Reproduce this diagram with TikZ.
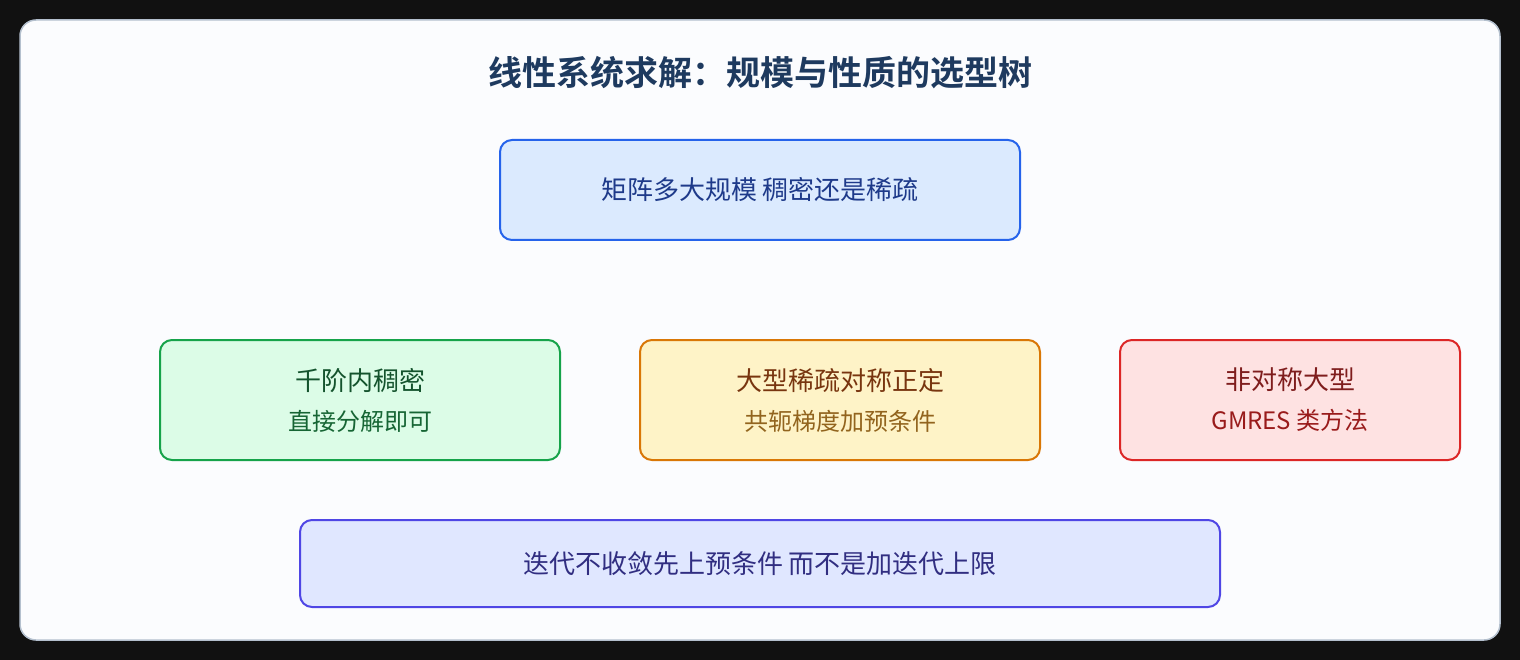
\documentclass[tikz,border=0pt]{standalone}
\usepackage{fontspec}
\setmainfont{Noto Sans CJK SC}[BoldFont={Noto Sans CJK SC Bold}]
\usepackage{tikz}
\usetikzlibrary{positioning}
\tikzset{
  box/.style = {align=center, rounded corners=12pt, line width=2pt, inner sep=0pt, outer sep=0pt,
  font=\fontsize{26}{40}\selectfont},
  box_q/.style = {box, draw=q_line, fill=q_fill, text=q_text, minimum width=520pt, minimum height=100pt},
  box_c/.style = {box, minimum height=120pt}
}
\definecolor{my_dark}{RGB}{17, 17, 17}
\definecolor{card_fill}{RGB}{251, 252, 254}
\definecolor{card_line}{RGB}{180, 192, 206}
\definecolor{title_text}{RGB}{30, 58, 95}
\definecolor{q_fill}{RGB}{219, 234, 254}
\definecolor{q_line}{RGB}{37, 99, 235}
\definecolor{q_text}{RGB}{30, 58, 138}
\definecolor{g_fill}{RGB}{220, 252, 231}
\definecolor{g_line}{RGB}{22, 163, 74}
\definecolor{g_text}{RGB}{20, 83, 45}
\definecolor{g_sub}{RGB}{22, 101, 52}
\definecolor{o_fill}{RGB}{254, 243, 199}
\definecolor{o_line}{RGB}{217, 119, 6}
\definecolor{o_text}{RGB}{120, 53, 15}
\definecolor{o_sub}{RGB}{146, 100, 30}
\definecolor{r_fill}{RGB}{254, 226, 226}
\definecolor{r_line}{RGB}{220, 38, 38}
\definecolor{r_text}{RGB}{127, 29, 29}
\definecolor{r_sub}{RGB}{153, 27, 27}
\definecolor{n_fill}{RGB}{224, 231, 255}
\definecolor{n_line}{RGB}{79, 70, 229}
\definecolor{n_text}{RGB}{49, 46, 129}
\newcommand{\subline}[2]{\\ \fontsize{24}{40}\selectfont\color{#1}#2}

\begin{document}
\begin{tikzpicture}[x=1pt, y=-1pt,
        	green/.style={box_c, draw=g_line, fill=g_fill, text=g_text, minimum width=400pt},
        	orange/.style={box_c, draw=o_line, fill=o_fill, text=o_text, minimum width=400pt},
        	red/.style={box_c, draw=r_line, fill=r_fill, text=r_text, minimum width=340pt},
        	note/.style={box, draw=n_line, fill=n_fill, text=n_text, minimum width=920pt, minimum height=87pt}]
		    \fill[my_dark] (0,0) rectangle (1520,660);
		    \useasboundingbox (0,0) rectangle (1520,660);
		    \draw[card_line, fill=card_fill, line width=1.5pt, rounded corners=16pt] (20,20) rectangle (1500,640);
		    \node [font=\fontsize{34}{40}\selectfont\bfseries, text=title_text] (title) at (760,73) {线性系统求解：规模与性质的选型树};
		    \node [box_q] (size) at (760,190) {矩阵多大规模 稠密还是稀疏};
		    \node [green] (dense) at (360,400) {千阶内稠密\subline{g_sub}{直接分解即可}};
		    \node [orange] (spd) at (840,400) {大型稀疏对称正定\subline{o_sub}{共轭梯度加预条件}};
		    \node [red] (nonsym) at (1290,400) {非对称大型\subline{r_sub}{GMRES 类方法}};
		    \node [note] (tip) at (760,563.5) {迭代不收敛先上预条件 而不是加迭代上限};
		\end{tikzpicture}
\end{document}
